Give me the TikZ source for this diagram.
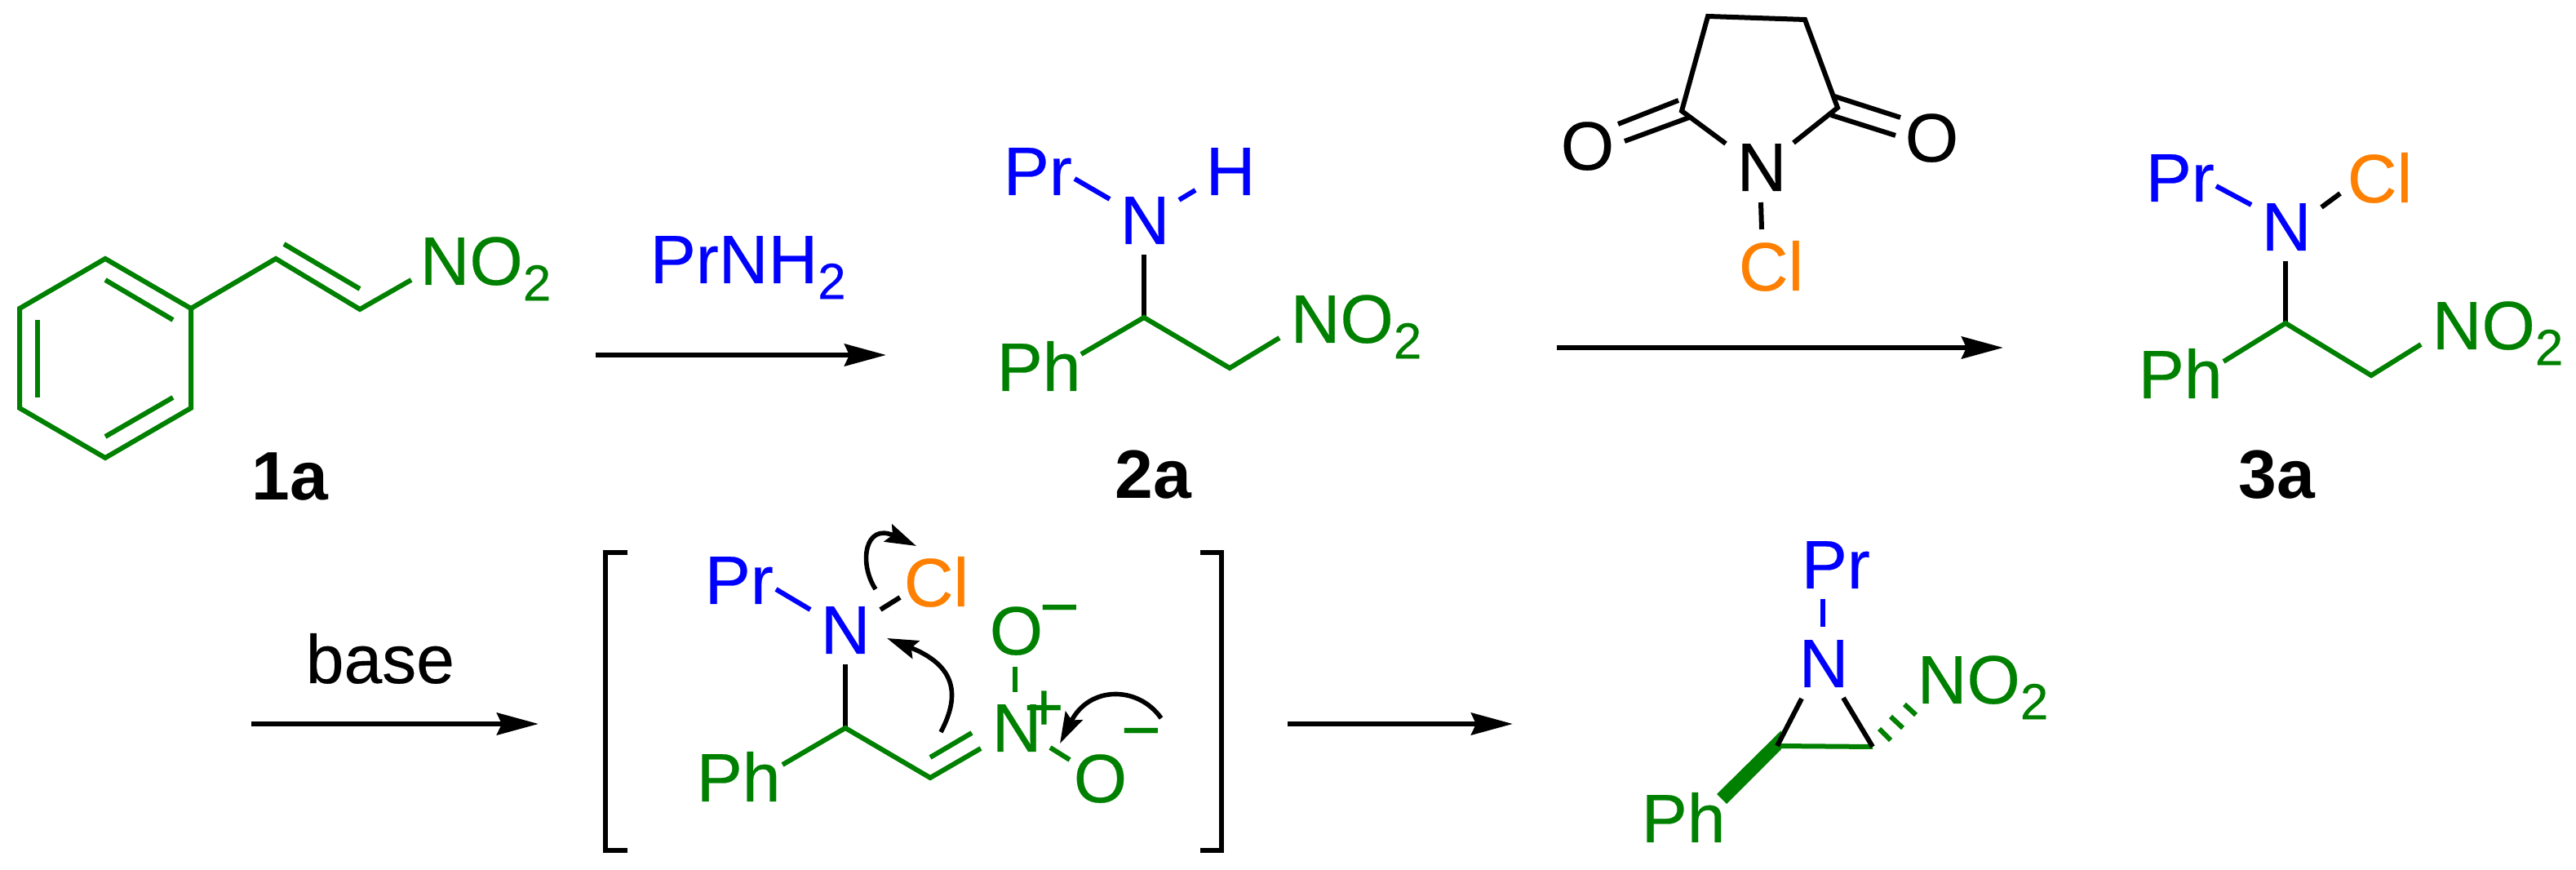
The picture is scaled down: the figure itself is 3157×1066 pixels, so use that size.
\documentclass[tikz,border=0pt]{standalone}
\usepackage{fontspec}
\setmainfont{Liberation Sans}
\newfontfamily\atomfont{Liberation Sans}[FakeBold=0.3]
\usetikzlibrary{arrows.meta}
\definecolor{molgreen}{RGB}{0,128,0}
\definecolor{molblue}{RGB}{0,0,255}
\definecolor{molorange}{RGB}{255,128,0}
\newcommand{\subtwo}{\raisebox{-4.8pt}{\fontsize{15.5}{15.5}\selectfont 2}}
\tikzset{
    atom/.style={inner sep=0pt, anchor=base west, font=\atomfont\fontsize{21}{21}\selectfont},
    gatom/.style={atom, text=molgreen},
    batom/.style={atom, text=molblue},
    oatom/.style={atom, text=molorange},
    katom/.style={atom, text=black},
    tag/.style={atom, text=black, font=\fontsize{21}{21}\selectfont\bfseries},
    bond/.style={line width=1.5pt, line join=miter},
    gbond/.style={bond, molgreen},
    bbond/.style={bond, molblue},
    kbond/.style={bond, black},
    rxn/.style={line width=1.5pt, -{Stealth[length=12.75pt, width=6.75pt, inset=1.5pt]}},
    curly/.style={line width=1.4pt, -{Stealth[length=9.5pt, width=5.8pt, inset=1.5pt]}},
}
\begin{document}
\begin{tikzpicture}[x=0.25pt, y=-0.25pt]
    \useasboundingbox (0, 0) rectangle (3157, 1066);

    % 1a
    \coordinate (r1) at (129, 317);
    \coordinate (r2) at (234, 378);
    \coordinate (r3) at (234, 500);
    \coordinate (r4) at (129, 561);
    \coordinate (r5) at (24, 500);
    \coordinate (r6) at (24, 378);
    \coordinate (v1) at (338, 317);
    \coordinate (v2) at (441, 379);
    \coordinate (v3) at (504, 343);
    \coordinate (i1) at (129, 343);
    \coordinate (i2) at (212, 392);
    \coordinate (i3) at (46, 392);
    \coordinate (i4) at (46, 487);
    \coordinate (i5) at (129, 535);
    \coordinate (i6) at (212, 487);
    \coordinate (w1) at (348, 299);
    \coordinate (w2) at (441, 354);
    \draw[gbond] (r1) -- (r2) -- (r3) -- (r4) -- (r5) -- (r6) -- cycle;
    \draw[gbond] (i1) -- (i2);
    \draw[gbond] (i3) -- (i4);
    \draw[gbond] (i5) -- (i6);
    \draw[gbond] (r2) -- (v1) -- (v2) -- (v3);
    \draw[gbond] (w1) -- (w2);
    \node[gatom] (nitroA) at (514, 349) {NO\subtwo};
    \node[tag] (labelA) at (308, 613) {1a};

    % PrNH2 step
    \coordinate (s1) at (730, 435);
    \coordinate (s2) at (1086, 435);
    \draw[rxn] (s1) -- (s2);
    \node[batom] (amine) at (796, 347) {PrNH\subtwo};

    % 2a
    \node[batom] (prB) at (1229, 239) {Pr};
    \node[batom] (nB) at (1372, 299) {N};
    \node[batom] (hB) at (1477, 239) {H};
    \node[gatom] (phB) at (1221, 479) {Ph};
    \node[gatom] (nitroB) at (1581, 420) {NO\subtwo};
    \node[tag] (labelB) at (1366, 611) {2a};
    \coordinate (b1) at (1317, 219);
    \coordinate (b2) at (1360, 244);
    \coordinate (b3) at (1445, 245);
    \coordinate (b4) at (1465, 233);
    \coordinate (b5) at (1402, 312);
    \coordinate (b6) at (1402, 389);
    \coordinate (b7) at (1325, 434);
    \coordinate (b8) at (1507, 451);
    \coordinate (b9) at (1568, 414);
    \draw[bbond] (b1) -- (b2);
    \draw[bbond] (b3) -- (b4);
    \draw[kbond] (b5) -- (b6);
    \draw[gbond] (b7) -- (b6) -- (b8) -- (b9);

    % N-chloro reagent
    \node[katom] (nS) at (2128, 234) {N};
    \node[oatom] (clS) at (2130, 356) {Cl};
    \node[katom] (oL) at (1912, 208) {O};
    \node[katom] (oR) at (2334, 198) {O};
    \coordinate (n1) at (2093, 20);
    \coordinate (n2) at (2212, 24);
    \coordinate (n3) at (2252, 132);
    \coordinate (n4) at (2061, 136);
    \coordinate (n5) at (2115, 176);
    \coordinate (n6) at (2198, 175);
    \coordinate (n7) at (2158, 248);
    \coordinate (n8) at (2159, 281);
    \coordinate (o1) at (2057, 123);
    \coordinate (o2) at (1983, 152);
    \coordinate (o3) at (2070, 144);
    \coordinate (o4) at (1991, 173);
    \coordinate (o5) at (2248, 118);
    \coordinate (o6) at (2329, 144);
    \coordinate (o7) at (2244, 141);
    \coordinate (o8) at (2323, 166);
    \draw[kbond] (n5) -- (n4) -- (n1) -- (n2) -- (n3) -- (n6);
    \draw[kbond] (n7) -- (n8);
    \draw[kbond] (o1) -- (o2);
    \draw[kbond] (o3) -- (o4);
    \draw[kbond] (o5) -- (o6);
    \draw[kbond] (o7) -- (o8);

    % chlorination step
    \coordinate (s3) at (1908, 426);
    \coordinate (s4) at (2455, 426);
    \draw[rxn] (s3) -- (s4);

    % 3a
    \node[batom] (prC) at (2629, 247) {Pr};
    \node[batom] (nC) at (2771, 307) {N};
    \node[oatom] (clC) at (2876, 248) {Cl};
    \node[gatom] (phC) at (2620, 488) {Ph};
    \node[gatom] (nitroC) at (2980, 428) {NO\subtwo};
    \node[tag] (labelC) at (2743, 611) {3a};
    \coordinate (c1) at (2716, 228);
    \coordinate (c2) at (2759, 251);
    \coordinate (c3) at (2845, 254);
    \coordinate (c4) at (2868, 237);
    \coordinate (c5) at (2801, 320);
    \coordinate (c6) at (2801, 396);
    \coordinate (c7) at (2725, 443);
    \coordinate (c8) at (2906, 460);
    \coordinate (c9) at (2967, 422);
    \draw[bbond] (c1) -- (c2);
    \draw[kbond] (c3) -- (c4);
    \draw[kbond] (c5) -- (c6);
    \draw[gbond] (c7) -- (c6) -- (c8) -- (c9);

    % base step
    \coordinate (s5) at (308, 887);
    \coordinate (s6) at (660, 887);
    \draw[rxn] (s5) -- (s6);
    \node[katom] (base) at (374, 837) {base};

    % intermediate
    \coordinate (k1) at (769, 677);
    \coordinate (k2) at (742, 677);
    \coordinate (k3) at (742, 1042);
    \coordinate (k4) at (769, 1042);
    \coordinate (k5) at (1471, 677);
    \coordinate (k6) at (1497, 677);
    \coordinate (k7) at (1497, 1042);
    \coordinate (k8) at (1471, 1042);
    \draw[line width=1.4pt] (k1) -- (k2) -- (k3) -- (k4);
    \draw[line width=1.4pt] (k5) -- (k6) -- (k7) -- (k8);
    \node[batom] (prD) at (863, 740) {Pr};
    \node[batom] (nD) at (1005, 801) {N};
    \node[oatom] (clD) at (1107, 743) {Cl};
    \node[gatom] (phD) at (853, 982) {Ph};
    \node[gatom] (nplus) at (1215, 921) {N};
    \node[gatom] (oT) at (1212, 802) {O};
    \node[gatom] (oB) at (1315, 983) {O};
    \node[gatom] (plus) at (1254, 895) {+};
    \node[gatom] (minT) at (1273, 772) {−};
    \node[gatom] (minB) at (1373, 923) {−};
    \coordinate (d1) at (951, 722);
    \coordinate (d2) at (993, 747);
    \coordinate (d3) at (1079, 747);
    \coordinate (d4) at (1103, 732);
    \coordinate (d5) at (1036, 814);
    \coordinate (d6) at (1036, 892);
    \coordinate (d7) at (959, 937);
    \coordinate (d8) at (1140, 953);
    \coordinate (d9) at (1202, 917);
    \coordinate (d10) at (1140, 928);
    \coordinate (d11) at (1191, 898);
    \coordinate (d12) at (1244, 817);
    \coordinate (d13) at (1244, 848);
    \coordinate (d14) at (1287, 916);
    \coordinate (d15) at (1311, 931);
    \draw[bbond] (d1) -- (d2);
    \draw[kbond] (d3) -- (d4);
    \draw[kbond] (d5) -- (d6);
    \draw[gbond] (d7) -- (d6) -- (d8) -- (d9);
    \draw[gbond] (d10) -- (d11);
    \draw[gbond] (d12) -- (d13);
    \draw[gbond] (d14) -- (d15);

    % electron pushing
    \coordinate (e1) at (1073, 722);
    \coordinate (e2) at (1123, 669);
    \coordinate (e3) at (1153, 897);
    \coordinate (e4) at (1087, 782);
    \coordinate (e5) at (1423, 880);
    \coordinate (e6) at (1299, 911);
    \draw[curly] (e1) .. controls (1052, 690) and (1060, 640) .. (e2);
    \draw[curly] (e3) .. controls (1178, 850) and (1170, 815) .. (e4);
    \draw[curly] (e5) .. controls (1395, 840) and (1335, 840) .. (e6);

    % last step
    \coordinate (s7) at (1578, 887);
    \coordinate (s8) at (1854, 887);
    \draw[rxn] (s7) -- (s8);

    % aziridine
    \node[batom] (prE) at (2207, 721) {Pr};
    \node[batom] (nE) at (2204, 842) {N};
    \node[gatom] (nitroE) at (2349, 862) {NO\subtwo};
    \node[gatom] (phE) at (2011, 1032) {Ph};
    \coordinate (z1) at (2234, 734);
    \coordinate (z2) at (2234, 768);
    \coordinate (z3) at (2208, 856);
    \coordinate (z4) at (2178, 914);
    \coordinate (z5) at (2259, 855);
    \coordinate (z6) at (2295, 915);
    \coordinate (z7) at (2104, 973);
    \coordinate (z8) at (2183, 895);
    \coordinate (z9) at (2183, 918);
    \coordinate (z10) at (2116, 985);
    \fill[molgreen] (z7) -- (z8) -- (z9) -- (z10) -- cycle;
    \draw[gbond] (z4) -- (z6);
    \draw[bbond] (z1) -- (z2);
    \draw[kbond] (z3) -- (z4);
    \draw[kbond] (z5) -- (z6);
    \coordinate (h1) at (2303, 893);
    \coordinate (h2) at (2317, 907);
    \coordinate (h3) at (2317, 878);
    \coordinate (h4) at (2332, 892);
    \coordinate (h5) at (2334, 863);
    \coordinate (h6) at (2348, 876);
    \draw[molgreen, line width=1.5pt] (h1) -- (h2);
    \draw[molgreen, line width=1.5pt] (h3) -- (h4);
    \draw[molgreen, line width=1.5pt] (h5) -- (h6);
\end{tikzpicture}
\end{document}
